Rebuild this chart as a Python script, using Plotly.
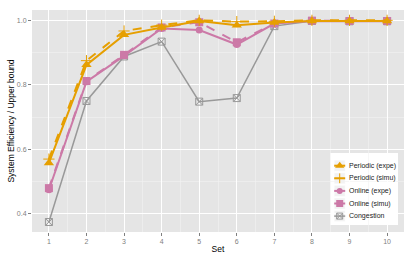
import plotly.graph_objects as go

sets = [1, 2, 3, 4, 5, 6, 7, 8, 9, 10]
periodic_expe = [0.558, 0.862, 0.955, 0.978, 0.998, 0.985, 0.993, 0.998, 0.998, 0.998]
periodic_simu = [0.57, 0.875, 0.967, 0.985, 1.0, 0.996, 0.997, 1.0, 1.0, 1.0]
online_expe = [0.475, 0.81, 0.89, 0.975, 0.970, 0.925, 0.99, 0.998, 0.997, 0.997]
online_simu = [0.48, 0.812, 0.893, 0.978, 0.994, 0.932, 0.99, 0.999, 0.998, 0.998]
congestion = [0.375, 0.75, 0.888, 0.934, 0.748, 0.759, 0.982, 0.998, 0.997, 0.997]
y_ticks = [0.4, 0.6, 0.8, 1.0]

ORANGE = "#E69F00"
PINK = "#CC79A7"
GRAY = "#999999"
FONT = "Liberation Sans, Arial, sans-serif"

series = [
    ("Congestion", congestion, GRAY, "solid", dict(symbol="square-x-open", size=7, color=GRAY, line=dict(width=1, color=GRAY)), 1.5),
    ("Online (simu)", online_simu, PINK, "dash", dict(symbol="square", size=8, color=PINK), 2),
    ("Online (expe)", online_expe, PINK, "solid", dict(symbol="circle", size=7, color=PINK), 2),
    ("Periodic (simu)", periodic_simu, ORANGE, "dash", dict(symbol="cross-thin", size=8, color=ORANGE, line=dict(color=ORANGE, width=1)), 2),
    ("Periodic (expe)", periodic_expe, ORANGE, "solid", dict(symbol="triangle-up", size=9, color=ORANGE), 2),
]

fig = go.Figure()
for name, vals, col, dash, mk, lw in series:
    fig.add_trace(go.Scatter(x=sets, y=vals, name=name, mode="lines+markers",
                             line=dict(color=col, width=lw, dash=dash), marker=mk,
                             showlegend=False))

# ---- custom legend (ggplot style) on a pixel-based overlay axis ----
W, H = 372, 222  # plot area size in px
box = dict(x0=298, x1=366, y0=143, y1=215)
shapes = [dict(type="rect", xref="x2", yref="y2", line=dict(width=0), fillcolor="white", layer="below", **box)]
annotations = []
key_cx, y0, step = 307.7, 155.7, 12.6
order = list(reversed(series))
for i, (name, vals, col, dash, mk, lw) in enumerate(order):
    cy = y0 + i * step
    shapes.append(dict(type="rect", xref="x2", yref="y2", x0=key_cx - 5.5, x1=key_cx + 5.5,
                       y0=cy - 5.5, y1=cy + 5.5, fillcolor="#F2F2F2", line=dict(width=0.5, color="white"),
                       layer="below"))
    kmk = dict(mk)
    kmk["size"] = max(mk["size"] - 1, 6)
    fig.add_trace(go.Scatter(x=[key_cx - 5.5, key_cx + 5.5], y=[cy, cy], mode="lines",
                             line=dict(color=col, width=lw), xaxis="x2", yaxis="y2",
                             showlegend=False, hoverinfo="skip"))
    fig.add_trace(go.Scatter(x=[key_cx], y=[cy], mode="markers", marker=kmk,
                             xaxis="x2", yaxis="y2", showlegend=False, hoverinfo="skip"))
    annotations.append(dict(xref="x2", yref="y2", x=key_cx + 7.5, y=cy, text=name,
                            showarrow=False, xanchor="left", yanchor="middle",
                            font=dict(family=FONT, size=7, color="#1A1A1A")))

axis_common = dict(
    showgrid=True, gridcolor="white", gridwidth=1.1,
    zeroline=False, showline=False, automargin=False,
    ticks="outside", ticklen=3, tickcolor="#7F7F7F", tickwidth=1,
    tickfont=dict(family=FONT, size=7, color="#7F7F7F"),
)

fig.update_layout(
    width=415, height=260,
    margin=dict(l=32, r=11, t=10, b=28),
    paper_bgcolor="white", plot_bgcolor="#E5E5E5",
    font=dict(family=FONT, size=8, color="black"),
    showlegend=False, hovermode=False,
    xaxis=dict(range=[0.55, 10.45], tickmode="array", tickvals=sets,
               ticktext=[str(s) for s in sets],
               minor=dict(dtick=1, tick0=0.5, showgrid=True, gridcolor="#F2F2F2", gridwidth=0.6, ticks=""),
               title=dict(text="Set", font=dict(family=FONT, size=8.5), standoff=1),
               **axis_common),
    yaxis=dict(range=[0.344, 1.032], tickmode="array", tickvals=y_ticks,
               ticktext=[f"{v:.1f}" for v in y_ticks],
               minor=dict(dtick=0.1, tick0=0.3, showgrid=True, gridcolor="#F2F2F2", gridwidth=0.6, ticks=""),
               title=dict(text="System Efficiency / Upper bound", font=dict(family=FONT, size=8.5), standoff=0),
               **axis_common),
    xaxis2=dict(overlaying="x", range=[0, W], visible=False, fixedrange=True),
    yaxis2=dict(overlaying="y", range=[H, 0], visible=False, fixedrange=True),
    shapes=shapes,
    annotations=annotations,
)

fig.write_html("out.html", config={"displayModeBar": False, "staticPlot": True},
               post_script="document.body.style.margin='0';document.body.style.overflow='hidden';")
